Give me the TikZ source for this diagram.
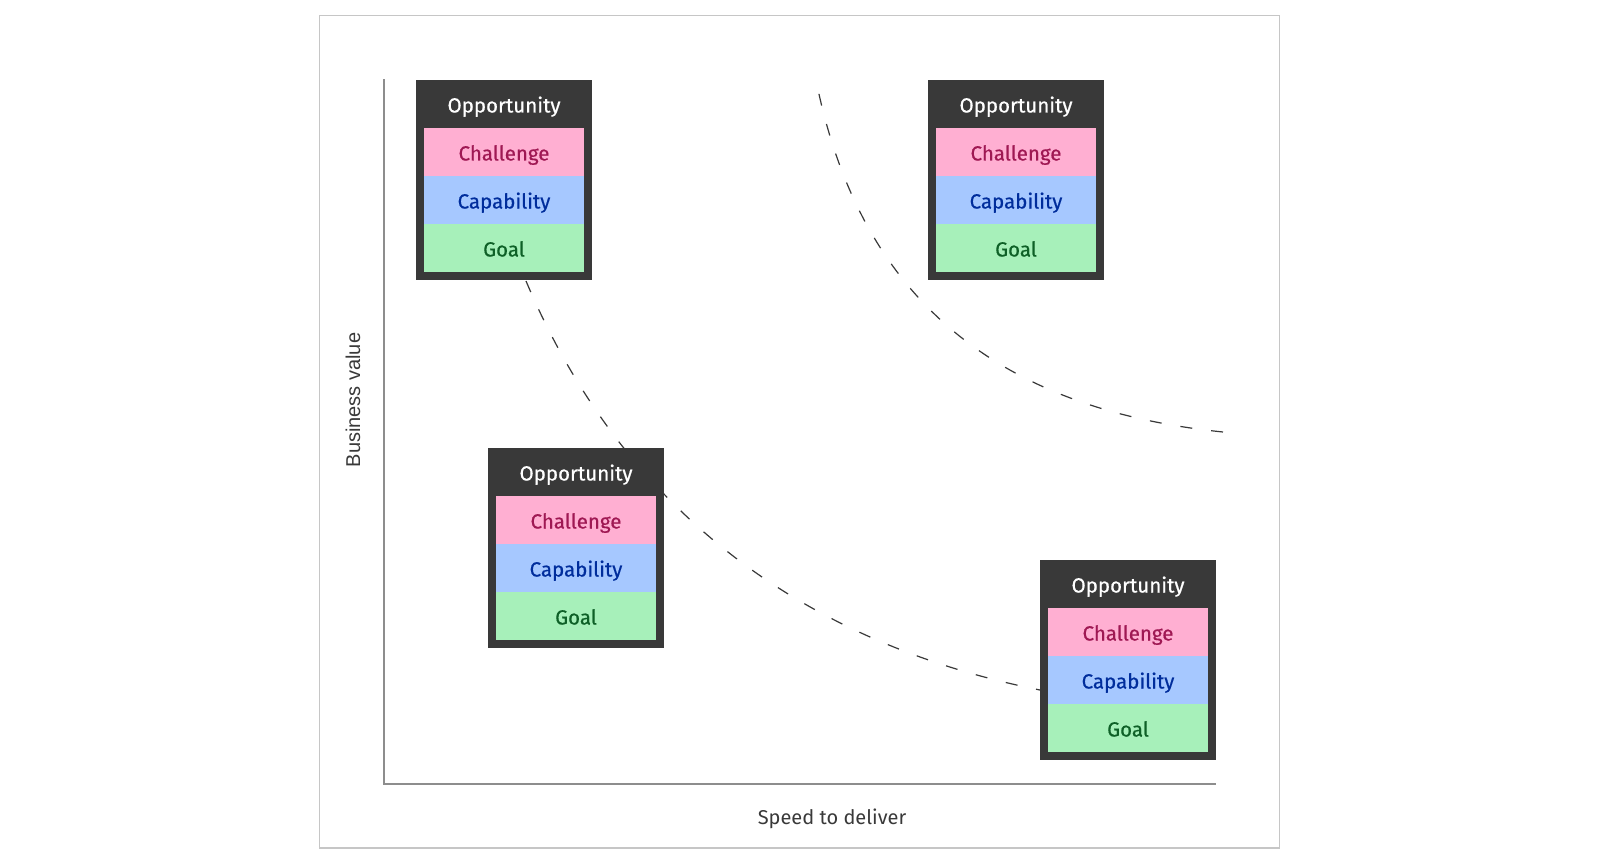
\documentclass[tikz,border=0pt]{standalone}
\usepackage{fontspec}
\setmainfont{Fira Sans}
\newfontfamily\cardfont{Fira Sans}[FakeBold=0.6]
\newfontfamily\axisfont{Liberation Sans}
\usetikzlibrary{positioning}
\definecolor{cardgray}{HTML}{393939}
\definecolor{framegray}{HTML}{C6C6C6}
\definecolor{axisgray}{HTML}{8D8D8D}
\definecolor{chalbg}{HTML}{FFAFD2}
\definecolor{chalfg}{HTML}{9F1853}
\definecolor{capbg}{HTML}{A6C8FF}
\definecolor{capfg}{HTML}{002D9C}
\definecolor{goalbg}{HTML}{A7F0BA}
\definecolor{goalfg}{HTML}{0E6027}
\tikzset{every node/.style={font=\fontsize{20}{24}\selectfont}}

\begin{document}
\begin{tikzpicture}[x=1pt,y=-1pt,node distance=0pt]
  \tikzstyle{card}=[fill=cardgray,minimum width=176pt,minimum height=200pt,
                    anchor=north,inner sep=0pt,outer sep=0pt]
  \tikzstyle{headbox}=[minimum width=160pt,minimum height=48pt,inner sep=0pt,
                    outer sep=0pt,text height=17pt,text depth=0pt,text=white,
                    font=\cardfont\fontsize{20.5}{24}\selectfont]
  \tikzstyle{chalbox}=[headbox,fill=chalbg,text=chalfg]
  \tikzstyle{capbox}=[headbox,fill=capbg,text=capfg]
  \tikzstyle{goalbox}=[headbox,fill=goalbg,text=goalfg]
  \tikzstyle{frontier}=[draw=cardgray,line width=1.2pt,dash pattern=on 12pt off 19pt]

  \useasboundingbox (0,0) rectangle (1600,864);
  \draw[framegray,line width=1.5pt] (319.5,15.5) rectangle (1279.5,848);

  % axes
  \draw[axisgray,line width=2pt] (383.5,79.5) -- (383.5,784) -- (1216,784);
  \node[text=cardgray]                 (xlab) at (832,819) {Speed to deliver};
  \node[text=cardgray,rotate=90,font=\axisfont\fontsize{20}{24}\selectfont]
                                       (ylab) at (353,400) {Business value};

  % frontiers
  \draw[frontier] (526,281) .. controls (620,504) and (795,641) .. (1040,690);
  \draw[frontier] (1223,432) .. controls (988,408) and (858,290) .. (816,80);

  \node[card]              (0)                      at (504,80)  {};
  \node[headbox]           (0t) [below=of 0.north]  {Opportunity};
  \node[chalbox]           (0c) [below=of 0t]       {Challenge};
  \node[capbox]            (0k) [below=of 0c]       {Capability};
  \node[goalbox]           (0g) [below=of 0k]       {Goal};

  \node[card]              (1)                      at (1016,80) {};
  \node[headbox]           (1t) [below=of 1.north]  {Opportunity};
  \node[chalbox]           (1c) [below=of 1t]       {Challenge};
  \node[capbox]            (1k) [below=of 1c]       {Capability};
  \node[goalbox]           (1g) [below=of 1k]       {Goal};

  \node[card]              (2)                      at (576,448) {};
  \node[headbox]           (2t) [below=of 2.north]  {Opportunity};
  \node[chalbox]           (2c) [below=of 2t]       {Challenge};
  \node[capbox]            (2k) [below=of 2c]       {Capability};
  \node[goalbox]           (2g) [below=of 2k]       {Goal};

  \node[card]              (3)                      at (1128,560) {};
  \node[headbox]           (3t) [below=of 3.north]  {Opportunity};
  \node[chalbox]           (3c) [below=of 3t]       {Challenge};
  \node[capbox]            (3k) [below=of 3c]       {Capability};
  \node[goalbox]           (3g) [below=of 3k]       {Goal};
\end{tikzpicture}
\end{document}
